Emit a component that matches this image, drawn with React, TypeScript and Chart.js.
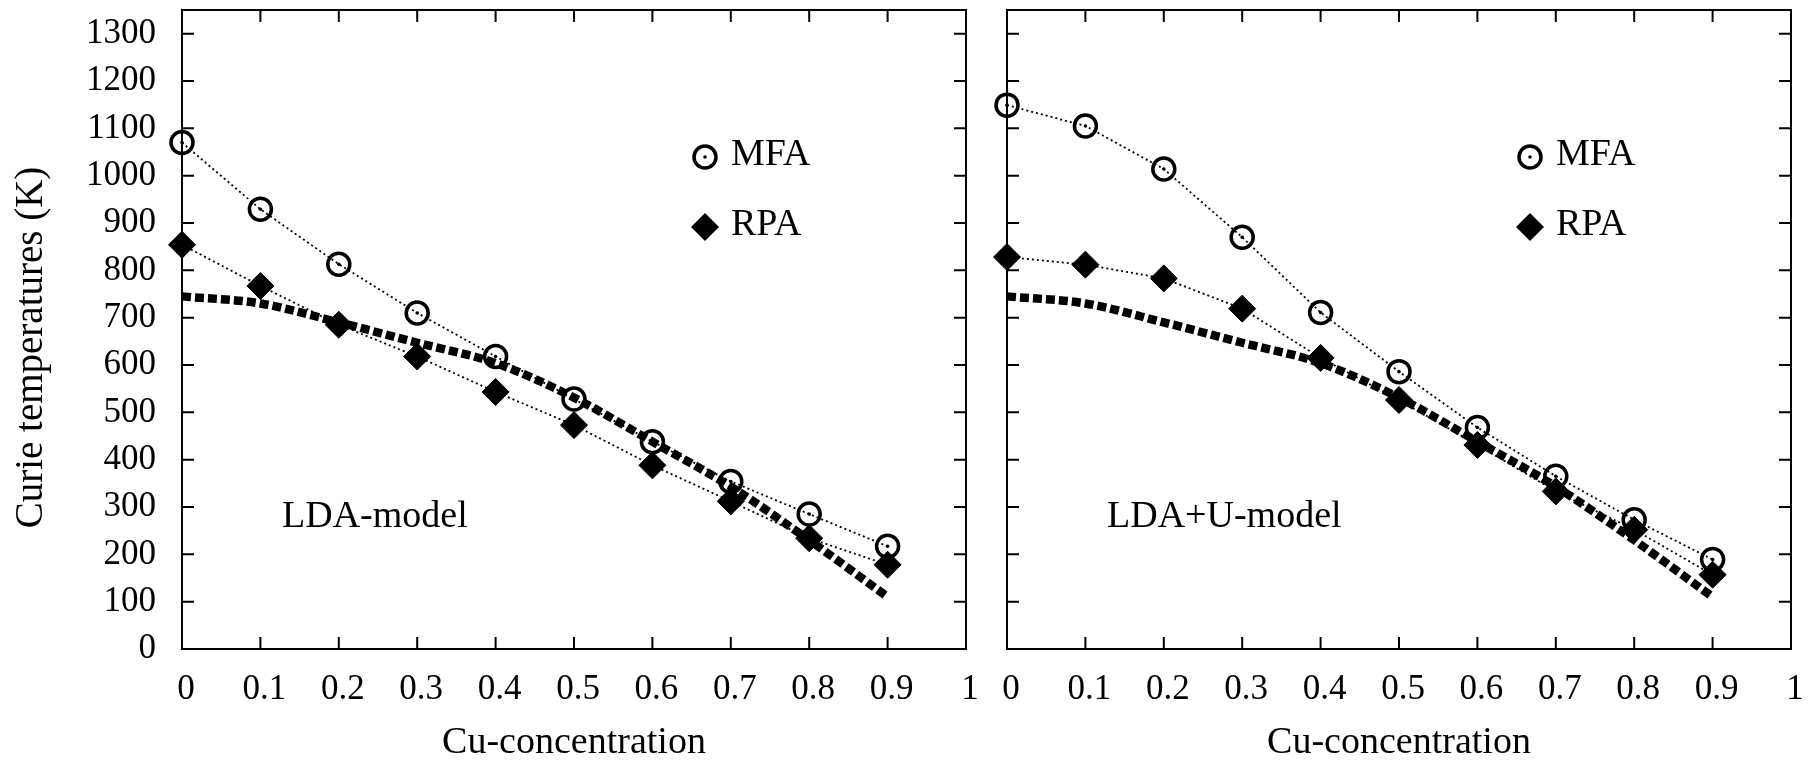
import React, { useEffect, useRef } from 'react';
import { Chart, registerables } from 'chart.js';

Chart.register(...registerables);

// ---- data ----
const concentration = [0, 0.1, 0.2, 0.3, 0.4, 0.5, 0.6, 0.7, 0.8, 0.9];
const ldaMFA = [1070, 929, 813, 710, 618, 528, 438, 354, 285, 217];
const ldaRPA = [854, 767, 685, 618, 543, 473, 388, 312, 234, 178];
const ldauMFA = [1149, 1105, 1014, 870, 711, 586, 468, 365, 273, 189];
const ldauRPA = [828, 812, 783, 719, 615, 526, 431, 333, 252, 157];
const experimentCurve = [745, 730, 690, 647, 604, 531, 438, 343, 230, 110];
const xTickValues = [0, 0.1, 0.2, 0.3, 0.4, 0.5, 0.6, 0.7, 0.8, 0.9, 1];
const yTickValues = [0, 100, 200, 300, 400, 500, 600, 700, 800, 900, 1000, 1100, 1200, 1300];
const xTitle = 'Cu-concentration';
const yTitle = 'Curie temperatures (K)';
const legendLabels = ['MFA', 'RPA'];

const FONT = "'Liberation Serif', 'Times New Roman', serif";

type PanelOpts = {
  mfa: number[];
  rpa: number[];
  label: string;
  showY: boolean;
  yWidth: number;
  padRight: number;
};

const pts = (ys: number[]) => concentration.map((x, i) => ({ x, y: ys[i] }));

function makePanel(canvas: HTMLCanvasElement, o: PanelOpts) {
  const framePlugin = {
    id: 'frame',
    afterDraw(chart: any) {
      const { ctx, chartArea: a, scales } = chart;
      ctx.save();
      ctx.strokeStyle = '#000';
      ctx.fillStyle = '#000';
      ctx.lineWidth = 2;
      ctx.strokeRect(a.left, a.top, a.right - a.left, a.bottom - a.top);
      const tl = 12;
      ctx.beginPath();
      for (const t of scales.x.ticks) {
        const px = scales.x.getPixelForValue(t.value);
        ctx.moveTo(px, a.bottom);
        ctx.lineTo(px, a.bottom - tl);
        ctx.moveTo(px, a.top);
        ctx.lineTo(px, a.top + tl);
      }
      for (const t of scales.y.ticks) {
        const py = scales.y.getPixelForValue(t.value);
        ctx.moveTo(a.left, py);
        ctx.lineTo(a.left + tl, py);
        ctx.moveTo(a.right, py);
        ctx.lineTo(a.right - tl, py);
      }
      ctx.stroke();

      // legend
      const lx = a.left + 523;
      ctx.lineWidth = 3.5;
      ctx.beginPath();
      ctx.arc(lx, 157, 11, 0, Math.PI * 2);
      ctx.stroke();
      ctx.beginPath();
      ctx.arc(lx, 157, 1.8, 0, Math.PI * 2);
      ctx.fill();
      ctx.beginPath();
      ctx.moveTo(lx - 14, 227);
      ctx.lineTo(lx, 213);
      ctx.lineTo(lx + 14, 227);
      ctx.lineTo(lx, 241);
      ctx.closePath();
      ctx.fill();
      ctx.font = `38px ${FONT}`;
      ctx.textAlign = 'left';
      ctx.textBaseline = 'alphabetic';
      ctx.fillText(legendLabels[0], a.left + 549, 165);
      ctx.fillText(legendLabels[1], a.left + 549, 235);

      // model label
      ctx.fillText(o.label, a.left + 100, 527);

      // y title
      if (o.showY) {
        ctx.save();
        ctx.translate(42, 347.5);
        ctx.rotate(-Math.PI / 2);
        ctx.textAlign = 'center';
        ctx.font = `39px ${FONT}`;
        ctx.fillText(yTitle, 0, 0);
        ctx.restore();
      }
      ctx.restore();
    },
  };

  return new Chart(canvas, {
    type: 'scatter',
    data: {
      datasets: [
        {
          label: 'curve',
          data: pts(experimentCurve),
          showLine: true,
          borderColor: '#000',
          borderWidth: 8.5,
          borderDash: [9, 4],
          pointRadius: 0,
          cubicInterpolationMode: 'monotone',
          clip: false,
        } as any,
        {
          label: 'MFA',
          data: pts(o.mfa),
          showLine: true,
          borderColor: '#000',
          borderWidth: 1.8,
          borderDash: [2, 3],
          pointStyle: 'circle',
          pointRadius: 11,
          pointBorderWidth: 3.5,
          pointBorderColor: '#000',
          pointBackgroundColor: 'rgba(0,0,0,0)',
          clip: false,
        },
        {
          label: 'MFA-dot',
          data: pts(o.mfa),
          showLine: false,
          pointRadius: 1.8,
          pointBorderWidth: 0,
          pointBackgroundColor: '#000',
          clip: false,
        },
        {
          label: 'RPA',
          data: pts(o.rpa),
          showLine: true,
          borderColor: '#000',
          borderWidth: 1.8,
          borderDash: [2, 3],
          pointStyle: 'rectRot',
          pointRadius: 13.5,
          pointBorderWidth: 1,
          pointBorderColor: '#000',
          pointBackgroundColor: '#000',
          clip: false,
        },
      ],
    },
    options: {
      animation: false,
      responsive: false,
      devicePixelRatio: 1,
      events: [],
      layout: { autoPadding: false, padding: { left: 0, right: o.padRight, top: 10, bottom: 0 } },
      plugins: { legend: { display: false }, tooltip: { enabled: false } },
      scales: {
        x: {
          type: 'linear',
          min: 0,
          max: 1,
          grid: { display: false, drawTicks: false },
          border: { display: false },
          afterBuildTicks: (s: any) => {
            s.ticks = xTickValues.map((v) => ({ value: v }));
          },
          afterFit: (s: any) => {
            s.height = 113;
            s.paddingLeft = 0;
            s.paddingRight = 0;
          },
          ticks: {
            autoSkip: false,
            maxRotation: 0,
            padding: 20,
            labelOffset: 4,
            color: '#000',
            font: { family: FONT, size: 35 },
            callback: (v: any) => String(Number(Number(v).toFixed(1))),
          },
          title: {
            display: true,
            text: xTitle,
            color: '#000',
            font: { family: FONT, size: 38, lineHeight: 1 },
            padding: 0,
          },
        },
        y: {
          type: 'linear',
          min: 0,
          max: 1350,
          grid: { display: false, drawTicks: false },
          border: { display: false },
          afterBuildTicks: (s: any) => {
            s.ticks = yTickValues.map((v) => ({ value: v }));
          },
          afterFit: (s: any) => {
            s.width = o.yWidth;
            s.paddingTop = 0;
            s.paddingBottom = 0;
          },
          ticks: {
            display: o.showY,
            autoSkip: false,
            padding: 26,
            color: '#000',
            font: { family: FONT, size: 35 },
            callback: (v: any) => String(v),
          },
        },
      },
    },
    plugins: [framePlugin],
  });
}

export default function App() {
  const leftRef = useRef<HTMLCanvasElement>(null);
  const rightRef = useRef<HTMLCanvasElement>(null);

  useEffect(() => {
    const c1 = makePanel(leftRef.current!, {
      mfa: ldaMFA,
      rpa: ldaRPA,
      label: 'LDA-model',
      showY: true,
      yWidth: 182,
      padRight: 1808 - 966,
    });
    const c2 = makePanel(rightRef.current!, {
      mfa: ldauMFA,
      rpa: ldauRPA,
      label: 'LDA+U-model',
      showY: false,
      yWidth: 1007,
      padRight: 1808 - 1791,
    });
    return () => {
      c1.destroy();
      c2.destroy();
    };
  }, []);

  return (
    <div style={{ position: 'absolute', left: 0, top: 0, width: 1808, height: 762, background: '#fff', overflow: 'hidden' }}>
      <canvas ref={leftRef} width={1808} height={762} style={{ position: 'absolute', left: 0, top: 0 }} />
      <canvas ref={rightRef} width={1808} height={762} style={{ position: 'absolute', left: 0, top: 0 }} />
    </div>
  );
}
